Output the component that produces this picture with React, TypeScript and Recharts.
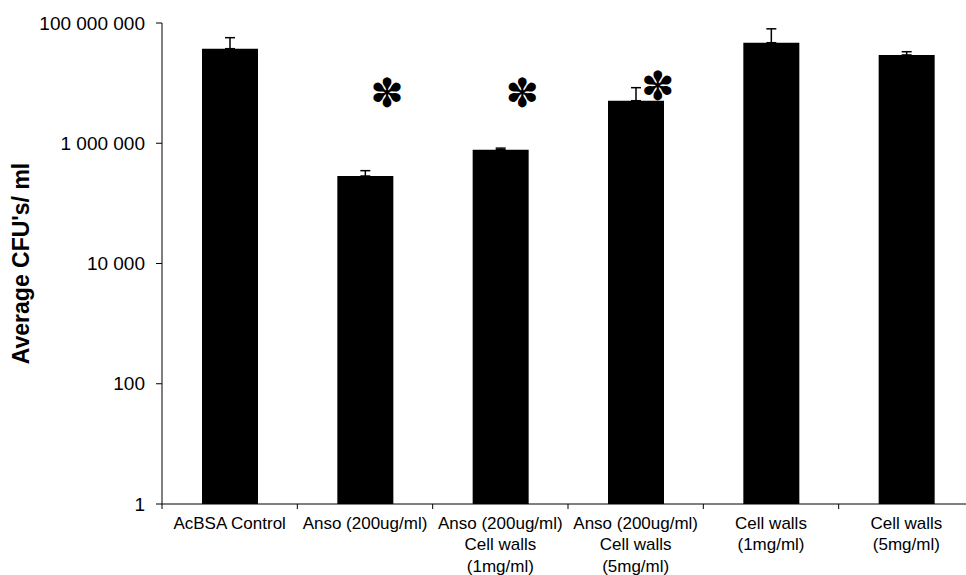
import { Bar, BarChart, ErrorBar, Label, ReferenceDot, XAxis, YAxis } from 'recharts'

// groups on the x axis (\n = line break in the tick label)
const categories = [
  'AcBSA Control',
  'Anso (200ug/ml)',
  'Anso (200ug/ml)\nCell walls\n(1mg/ml)',
  'Anso (200ug/ml)\nCell walls\n(5mg/ml)',
  'Cell walls\n(1mg/ml)',
  'Cell walls\n(5mg/ml)',
]

// mean CFU/ml and the top of each error bar
const meanCfu = [3.74e7, 2.85e5, 7.8e5, 5.1e6, 4.7e7, 2.94e7]
const upperCfu = [5.7e7, 3.5e5, 8.3e5, 8.4e6, 8.0e7, 3.33e7]

// height of the significance asterisk (null = none)
const sigLevel: (number | null)[] = [null, 6.9e6, 6.9e6, 9.0e6, null, null]

const yTicks = [1, 100, 10000, 1000000, 100000000]

const chartData = categories.map((name, i) => ({
  name,
  value: meanCfu[i],
  err: [0, upperCfu[i] - meanCfu[i]],
}))

const PLOT_WIDTH = 812
const BAND = PLOT_WIDTH / categories.length

const formatTick = (v: number) => String(v).replace(/\B(?=(\d{3})+(?!\d))/g, ' ')

function CategoryTick(props: any) {
  const { x, y, payload, index } = props
  const lines = String(payload.value).split('\n')
  const left = x - BAND / 2
  const right = x + BAND / 2
  return (
    <g>
      <line x1={left} y1={y} x2={left} y2={y + 5} stroke="#000" />
      {index === categories.length - 1 && (
        <line x1={right} y1={y} x2={right} y2={y + 5} stroke="#000" />
      )}
      <text x={x} y={y + 24.5} textAnchor="middle" fontSize={17} fill="#000">
        {lines.map((line, i) => (
          <tspan key={i} x={x} dy={i === 0 ? 0 : 21.5}>
            {line}
          </tspan>
        ))}
      </text>
    </g>
  )
}

function YTitle(props: any) {
  const { viewBox } = props
  const cy = viewBox.y + viewBox.height / 2
  return (
    <text
      x={21}
      y={cy}
      transform={`rotate(-90, 21, ${cy})`}
      textAnchor="middle"
      dominantBaseline="central"
      fontSize={23}
      fontWeight="bold"
      fill="#000"
    >
      Average CFU's/ ml
    </text>
  )
}

function Asterisk(props: any) {
  const { cx, cy } = props
  return (
    <text
      x={cx + 22}
      y={cy}
      textAnchor="middle"
      dominantBaseline="central"
      fontSize={40}
      fontFamily="DejaVu Sans"
      fill="#000"
    >
      ✽
    </text>
  )
}

export default function App() {
  return (
    <div
      style={{
        position: 'fixed',
        left: 0,
        top: 0,
        width: 966,
        height: 575,
        overflow: 'hidden',
        background: '#fff',
        fontFamily: '"Liberation Sans", Arial, sans-serif',
      }}
    >
      <BarChart
        width={984}
        height={575}
        data={chartData}
        margin={{ top: 23, right: 10, bottom: 0, left: 0 }}
      >
        <XAxis
          dataKey="name"
          height={71}
          tickLine={false}
          tickSize={0}
          tickMargin={0}
          interval={0}
          axisLine={{ stroke: '#000' }}
          tick={<CategoryTick />}
        />
        <YAxis
          type="number"
          scale="log"
          domain={[1, 100000000]}
          ticks={yTicks}
          allowDataOverflow
          width={162}
          tickSize={6}
          tickMargin={11}
          axisLine={{ stroke: '#000' }}
          tickLine={{ stroke: '#000' }}
          tick={{ fontSize: 19, fill: '#000' }}
          tickFormatter={formatTick}
        >
          <Label content={<YTitle />} />
        </YAxis>
        <Bar dataKey="value" fill="#000" barSize={56} isAnimationActive={false}>
          <ErrorBar dataKey="err" direction="y" width={5} stroke="#000" strokeWidth={1.5} />
        </Bar>
        {categories
          .map((c, i) => ({ c, level: sigLevel[i] }))
          .filter(d => d.level != null)
          .map(d => (
            <ReferenceDot key={d.c} x={d.c} y={d.level as number} r={0} shape={<Asterisk />} />
          ))}
      </BarChart>
    </div>
  )
}
